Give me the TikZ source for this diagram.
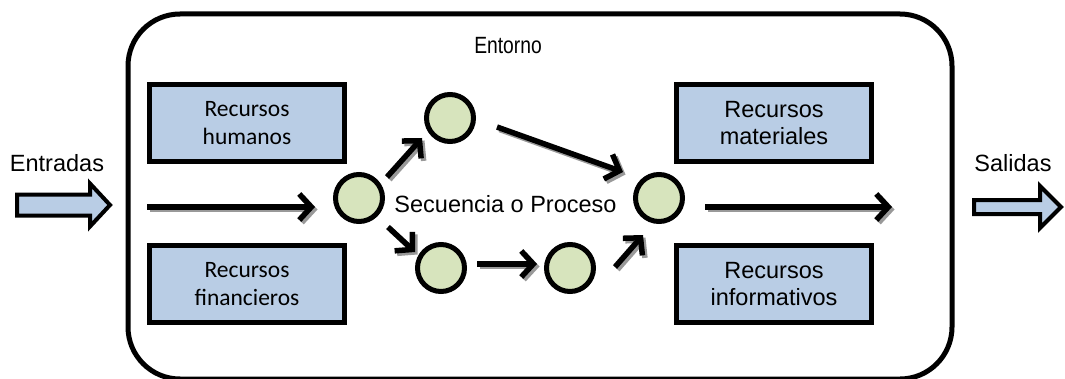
\documentclass[tikz,border=0pt]{standalone}
\usepackage{fontspec}
\setmainfont{Liberation Sans}
\newfontfamily\calibri{Carlito}
\newfontfamily\estrecha[FakeStretch=0.82]{Liberation Sans}
\usetikzlibrary{positioning, calc, arrows.meta}
\definecolor{azulrec}{HTML}{B9CDE5}
\definecolor{verdepaso}{HTML}{D7E4BD}

% flow arrow with its grey shadow
\newcommand{\flujo}[2]{%
    \draw[flecha, draw=black!40, transform canvas={shift={(2.5,-2.5)}}] #1 -- #2;
    \draw[flecha] #1 -- #2;}

\begin{document}
\begin{tikzpicture}[x=1pt, y=1pt,
    recurso/.style={draw, line width=5pt, fill=azulrec, minimum width=195pt, minimum height=77pt, align=center, inner sep=0pt},
    paso/.style={circle, draw, line width=5pt, fill=verdepaso, minimum size=47pt, inner sep=0pt},
    flecha/.style={line width=5.5pt, -{Straight Barb[length=12pt, width=26pt]}},
    gruesa/.style={draw, line width=4pt, fill=azulrec, line join=miter},
    texto/.style={font=\fontsize{23.5}{27}\selectfont}]

    \useasboundingbox (0,0) rectangle (1065,378);

    % --- Entorno (frame) ---
    \draw[line width=5pt, rounded corners=52pt] (128,-1) rectangle (952,364);
    \node[texto, anchor=base] (entorno) at (508,324) {\estrecha Entorno};

    % --- Resources ---
    \node[recurso, font=\calibri\fontsize{23.5}{28}\selectfont] (humanos) at (247,254.5) {Recursos\\humanos};
    \node[recurso, font=\calibri\fontsize{23.5}{28}\selectfont] (financieros) at (247,94) {Recursos\\financieros};
    \node[recurso, texto] (materiales) at (774,254.5) {Recursos\\materiales};
    \node[recurso, texto] (informativos) at (774,94) {Recursos\\informativos};

    % --- Process steps ---
    \node[paso] (p1) at (359,180) {};
    \node[paso] (p2) at (450,260) {};
    \node[paso] (p3) at (441,110) {};
    \node[paso] (p4) at (570,110) {};
    \node[paso] (p5) at (659,180) {};
    \node[texto, anchor=base] (secuencia) at (505.5,165) {Secuencia o Proceso};

    % --- Flow arrows ---
    \coordinate (ini) at (147,171);
    \coordinate (fin) at (892,171);
    \flujo{(ini)}{($(p1)+(-44,-9)$)}
    \flujo{($(p1)+(28,21)$)}{($(p2)+(-28,-20)$)}
    \flujo{($(p1)+(29,-29)$)}{($(p3)+(-26,16)$)}
    \flujo{($(p3)+(36,4)$)}{($(p4)+(-33,4)$)}
    \flujo{($(p4)+(45,1)$)}{($(p5)+(-16,-37)$)}
    \flujo{($(p2)+(47,-9)$)}{($(p5)+(-36,26)$)}
    \flujo{($(p5)+(46,-9)$)}{(fin)}

    % --- Inputs and outputs ---
    \node[texto, anchor=base] (entradas) at (57,206) {Entradas};
    \draw[gruesa] (17,183.5) -- (90,183.5) -- (90,194.5) -- (110,173) -- (90,151.5) -- (90,162.5) -- (17,162.5) -- cycle;
    \node[texto, anchor=base] (salidas) at (1013,206) {Salidas};
    \draw[gruesa] (974,178) -- (1040,178) -- (1040,192) -- (1061,171) -- (1040,150) -- (1040,164) -- (974,164) -- cycle;

\end{tikzpicture}
\end{document}
